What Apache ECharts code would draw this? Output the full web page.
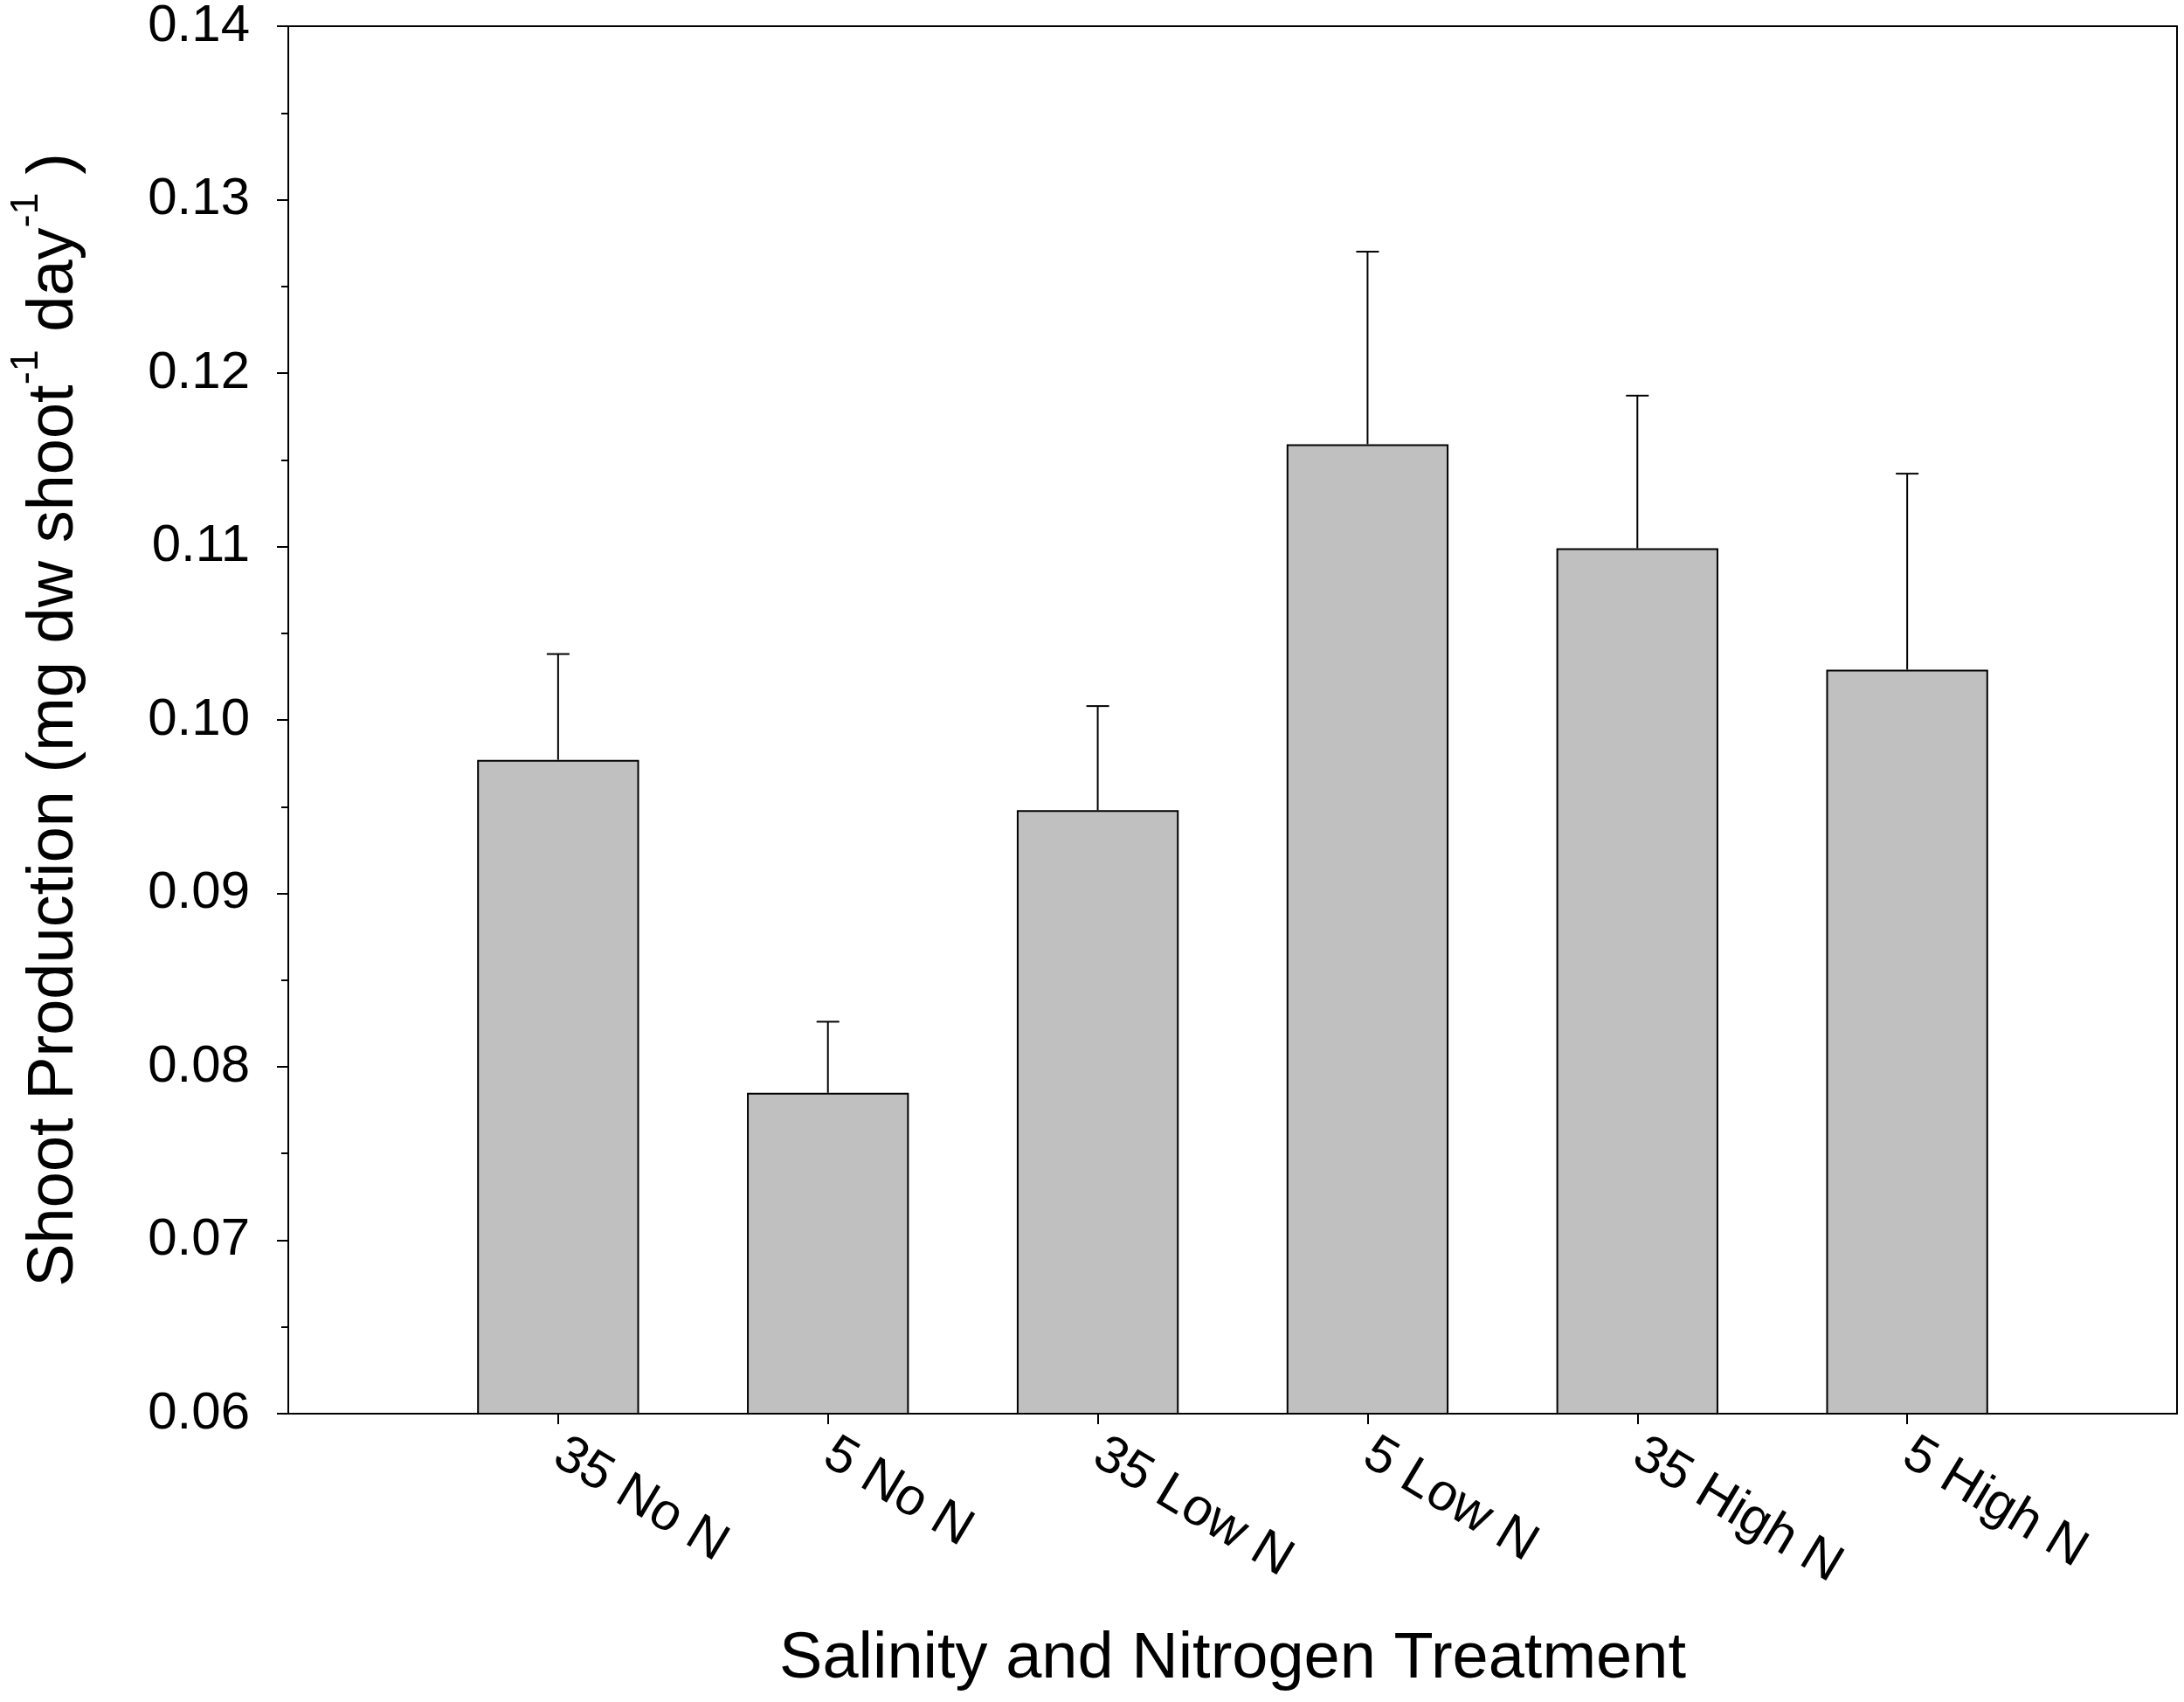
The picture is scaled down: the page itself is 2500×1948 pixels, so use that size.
<!DOCTYPE html>
<html>
<head>
<meta charset="utf-8">
<script src="https://cdn.jsdelivr.net/npm/echarts@6/dist/echarts.min.js"></script>
<style>
html,body{margin:0;padding:0;background:#fff;}
#chart{width:2500px;height:1948px;}
</style>
</head>
<body>
<div id="chart"></div>
<script>
// Data
const categories = ['35 No N', '5 No N', '35 Low N', '5 Low N', '35 High N', '5 High N'];
const means      = [0.0977, 0.0785, 0.0948, 0.1159, 0.1099, 0.1029];
const errorTops  = [0.1038, 0.0826, 0.1008, 0.1270, 0.1187, 0.1142];
const yTicks     = { min: 0.06, max: 0.14, interval: 0.01 };

// Category axis padded with an empty slot on each side (the plot leaves one empty band at each end)
const axisCats = [''].concat(categories, ['']);
const barData = [null].concat(means, [null]);
const errData = categories.map((c, i) => [i + 1, means[i], errorTops[i]]);

const FONT = "'Liberation Sans', Arial, Helvetica, sans-serif";
const chart = echarts.init(document.getElementById('chart'), null, { renderer: 'canvas' });

chart.setOption({
  animation: false,
  backgroundColor: '#ffffff',
  grid: {
    left: 324, right: 8, top: 29, bottom: 330,
    show: true, borderColor: '#000', borderWidth: 2, backgroundColor: 'transparent'
  },
  xAxis: {
    type: 'category',
    data: axisCats,
    boundaryGap: false,
    name: 'Salinity and Nitrogen Treatment',
    nameLocation: 'middle',
    nameGap: 245,
    nameTextStyle: { fontFamily: FONT, fontSize: 74, color: '#000' },
    axisLine: { show: true, lineStyle: { color: '#000', width: 2 } },
    axisTick: {
      show: true, length: 12, inside: false,
      interval: (idx) => idx > 0 && idx < axisCats.length - 1,
      lineStyle: { color: '#000', width: 2 }
    },
    axisLabel: {
      interval: 0, rotate: -31, margin: 42,
      fontFamily: FONT, fontSize: 60, color: '#000'
    },
    splitLine: { show: false }
  },
  yAxis: {
    type: 'value',
    min: yTicks.min, max: yTicks.max, interval: yTicks.interval,
    name: '{m|Shoot Production (mg dw shoot}{s|-1}{m| day}{s|-1}{m| )}',
    nameLocation: 'middle',
    nameRotate: 90,
    nameGap: 212,
    nameTextStyle: {
      fontFamily: FONT, color: '#000',
      rich: {
        m: { fontFamily: FONT, fontSize: 74, lineHeight: 110, color: '#000' },
        s: { fontFamily: FONT, fontSize: 45, lineHeight: 45, verticalAlign: 'top', color: '#000' }
      }
    },
    axisLine: { show: true, lineStyle: { color: '#000', width: 2 } },
    axisTick: { show: true, length: 13, inside: false, lineStyle: { color: '#000', width: 2 } },
    minorTick: { show: true, splitNumber: 2, length: 8, lineStyle: { color: '#000', width: 2 } },
    axisLabel: {
      margin: 44, fontFamily: FONT, fontSize: 60, color: '#000',
      formatter: (v) => v.toFixed(2)
    },
    splitLine: { show: false },
    minorSplitLine: { show: false }
  },
  series: [
    {
      type: 'bar',
      data: barData,
      barWidth: '60%',
      itemStyle: { color: '#c0c0c0', borderColor: '#000', borderWidth: 2 },
      z: 2
    },
    {
      type: 'custom',
      data: errData,
      z: 3,
      renderItem: (params, api) => {
        const x = api.value(0);
        const base = api.coord([x, api.value(1)]);
        const top = api.coord([x, api.value(2)]);
        const half = 13;
        const style = { stroke: '#000', lineWidth: 2 };
        return {
          type: 'group',
          children: [
            { type: 'line', shape: { x1: base[0], y1: base[1], x2: top[0], y2: top[1] }, style },
            { type: 'line', shape: { x1: top[0] - half, y1: top[1], x2: top[0] + half, y2: top[1] }, style }
          ]
        };
      }
    }
  ]
});
</script>
</body>
</html>
